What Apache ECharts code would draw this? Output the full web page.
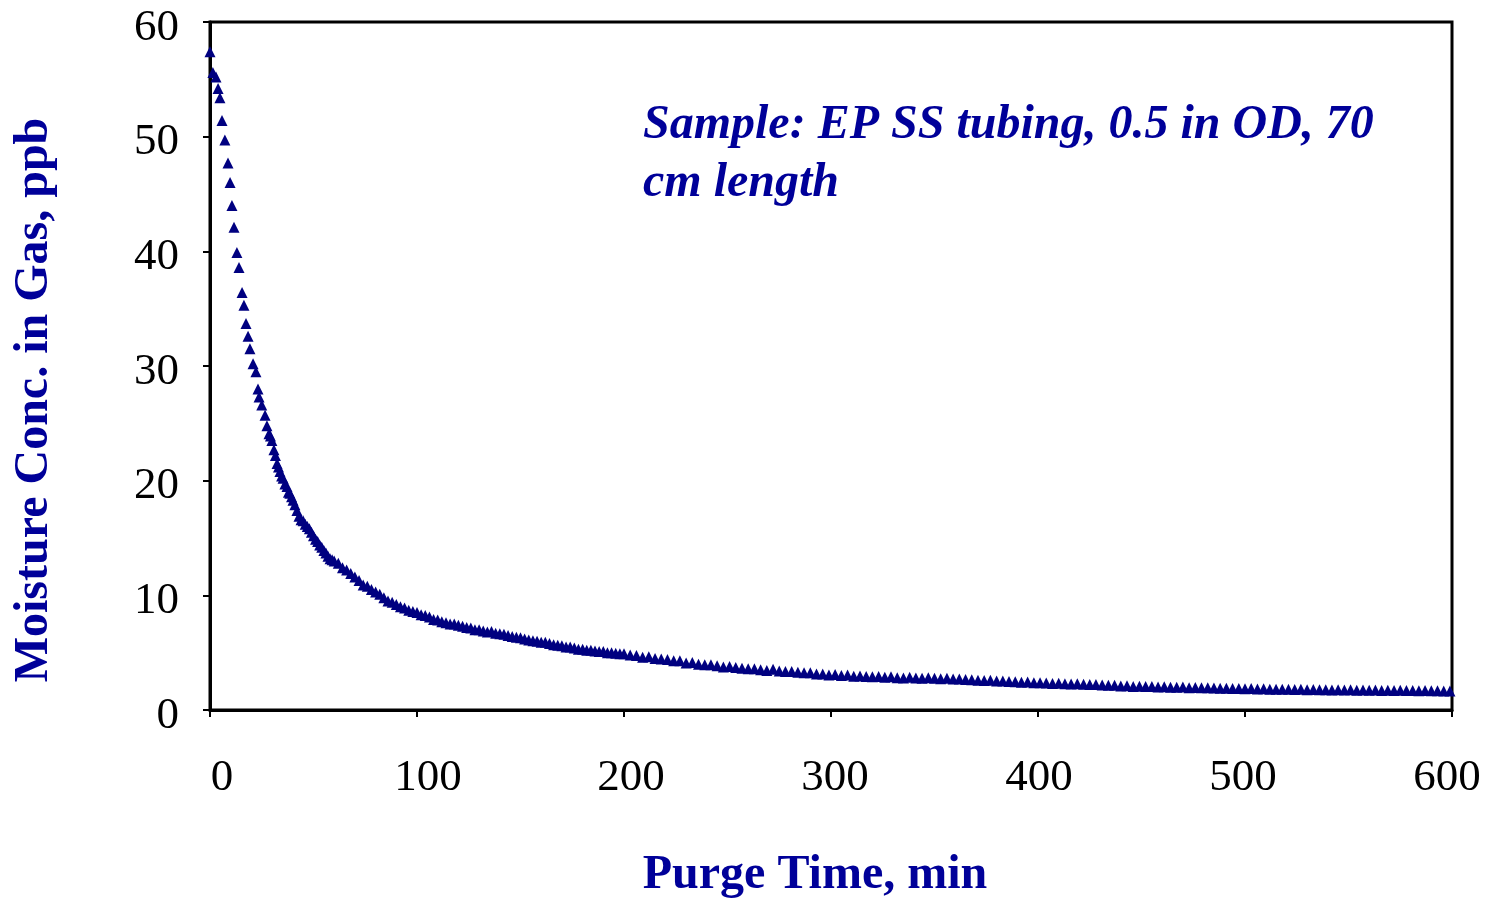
<!DOCTYPE html>
<html>
<head>
<meta charset="utf-8">
<script src="https://cdn.jsdelivr.net/npm/echarts@6/dist/echarts.min.js"></script>
<style>html,body{margin:0;padding:0;background:#fff}#c{width:1487px;height:900px}</style>
</head>
<body>
<div id="c"></div>
<script>
// Purge time (min) and moisture concentration (ppb)
const timeEarly = [0,1.4,2.9,3.9,4.8,5.8,7.2,8.7,9.7,10.6,11.6,13.0,14.0,15.5,16.4,17.4,18.4,19.3,20.8,22.2,23.2,23.7,25.0,26.6,27.5,28.5,29.2,29.9,30.9,31.6,32.4,33.1,33.8,34.6,35.3,36.2,37.2,37.9,38.6,39.4,40.1];
const concEarly = [57.4,55.6,55.2,54.2,53.4,51.4,49.7,47.7,46.0,44.0,42.1,39.9,38.6,36.4,35.3,33.7,32.6,31.5,30.2,29.5,28.0,27.3,26.6,25.7,24.8,24.1,23.9,23.5,22.7,22.2,21.5,21.2,20.8,20.4,20.2,19.7,19.5,19.0,18.9,18.6,18.3];

const timeMid = [41,42,43,44,45,46,47,48,49,50,51,52,53,54,55,56,57,58,59,60,
  62,64,66,68,70,72,74,76,78,80,82,84,86,88,90,92,94,96,98,100,
  102,104,106,108,110,112,114,116,118,120,122,124,126,128,130,132,134,136,138,140,
  142,144,146,148,150,152,154,156,158,160,162,164,166,168,170,172,174,176,178,180,
  182,184,186,188,190,192,194,196,198,200];
const concMid = [17.9,17.4,16.9,16.6,16.5,16.2,16.0,15.8,15.5,15.2,14.9,14.7,14.4,14.2,13.9,13.7,13.4,13.2,13.1,13.0,
  12.8,12.4,12.2,11.9,11.6,11.3,10.9,10.8,10.5,10.3,10.1,9.8,9.5,9.4,9.2,9.0,8.9,8.7,8.6,8.5,
  8.3,8.25,8.1,7.9,7.85,7.7,7.6,7.5,7.5,7.4,7.3,7.2,7.15,7.0,7.0,6.9,6.8,6.85,6.7,6.65,
  6.6,6.5,6.4,6.35,6.3,6.2,6.1,6.05,6.0,5.9,5.9,5.8,5.7,5.65,5.6,5.5,5.5,5.4,5.3,5.3,
  5.2,5.2,5.15,5.1,5.1,5.0,5.0,4.95,4.9,4.9];

const timeLate = [203,206,209,212,215,218,221,224,227,230,233,236,239,242,245,248,251,254,257,260,
  263,266,269,272,275,278,281,284,287,290,293,296,299,302,305,308,311,314,317,320,
  323,326,329,332,335,338,341,344,347,350,353,356,359,362,365,368,371,374,377,380,
  383,386,389,392,395,398,401,404,407,410,413,416,419,422,425,428,431,434,437,440,
  443,446,449,452,455,458,461,464,467,470,473,476,479,482,485,488,491,494,497,500,
  503,506,509,512,515,518,521,524,527,530,533,536,539,542,545,548,551,554,557,560,
  563,566,569,572,575,578,581,584,587,590,593,596,599];
const concLate = [4.8,4.75,4.6,4.65,4.5,4.45,4.4,4.3,4.3,4.1,4.15,4.0,3.95,3.95,3.85,3.75,3.8,3.7,3.65,3.6,
  3.6,3.5,3.45,3.55,3.4,3.35,3.35,3.3,3.25,3.25,3.15,3.15,3.05,3.1,3.0,3.05,2.95,2.97,2.92,2.9,
  2.92,2.85,2.9,2.82,2.8,2.86,2.8,2.76,2.82,2.76,2.72,2.77,2.7,2.7,2.66,2.64,2.6,2.58,2.6,2.52,
  2.52,2.48,2.46,2.42,2.44,2.37,2.38,2.35,2.32,2.33,2.3,2.27,2.28,2.24,2.22,2.22,2.17,2.16,2.15,2.1,
  2.12,2.06,2.08,2.04,2.04,2.0,2.03,1.98,1.98,2.0,1.95,1.97,1.93,1.93,1.92,1.89,1.9,1.88,1.87,1.85,
  1.87,1.83,1.85,1.82,1.82,1.8,1.82,1.78,1.8,1.77,1.79,1.76,1.77,1.75,1.77,1.74,1.76,1.73,1.75,1.72,
  1.74,1.71,1.73,1.7,1.72,1.69,1.71,1.68,1.69,1.67,1.68,1.65,1.66];

const xTicks = [0,100,200,300,400,500,600];
const yTicks = [0,10,20,30,40,50,60];
const xLabelShift = [12,11,7,4,1,-2,-5];

const times = timeEarly.concat(timeMid, timeLate);
const conc = concEarly.concat(concMid, concLate);
const points = times.map((t, i) => [t, conc[i]]);

const rich = {};
xTicks.forEach((v, i) => {
  const s = xLabelShift[i];
  rich['l' + i] = {
    fontFamily: 'Liberation Serif', fontSize: 45, color: '#000',
    padding: s >= 0 ? [0, 0, 0, 2 * s] : [0, -2 * s, 0, 0]
  };
});

const chart = echarts.init(document.getElementById('c'), null, {renderer: 'canvas'});
chart.setOption({
  animation: false,
  backgroundColor: '#fff',
  grid: {left: 210, right: 35, top: 22, bottom: 190, show: true, borderColor: '#000', borderWidth: 3, backgroundColor: 'transparent'},
  xAxis: {
    type: 'value', min: xTicks[0], max: xTicks[xTicks.length - 1], interval: 100,
    axisLine: {show: true, lineStyle: {color: '#000', width: 3}},
    axisTick: {show: true, inside: false, length: 7, lineStyle: {color: '#000', width: 2}},
    splitLine: {show: false},
    axisLabel: {
      margin: 46,
      formatter: (v) => { const i = xTicks.indexOf(v); return '{l' + i + '|' + v + '}'; },
      rich: rich,
      fontFamily: 'Liberation Serif', fontSize: 45, color: '#000'
    }
  },
  yAxis: {
    type: 'value', min: yTicks[0], max: yTicks[yTicks.length - 1], interval: 10,
    axisLine: {show: true, lineStyle: {color: '#000', width: 3}},
    axisTick: {show: true, inside: false, length: 7, lineStyle: {color: '#000', width: 2}},
    splitLine: {show: false},
    axisLabel: {
      margin: 31,
      formatter: (v) => '{y|' + v + '}',
      rich: {y: {fontFamily: 'Liberation Serif', fontSize: 45, color: '#000', padding: [12, 0, 0, 0]}},
      fontFamily: 'Liberation Serif', fontSize: 45, color: '#000'
    }
  },
  graphic: [
    {type: 'text', left: 643, top: 97, style: {
      text: 'Sample: EP SS tubing, 0.5 in OD, 70\ncm length',
      font: 'italic bold 48px "Liberation Serif"', fill: '#000099', lineHeight: 58
    }},
    {type: 'text', x: 815, y: 876, style: {
      text: 'Purge Time, min', font: 'bold 48px "Liberation Serif"', fill: '#000099',
      align: 'center', verticalAlign: 'middle'
    }},
    {type: 'text', x: 35, y: 400, rotation: Math.PI / 2, style: {
      text: 'Moisture Conc. in Gas, ppb', font: 'bold 48px "Liberation Serif"', fill: '#000099',
      align: 'center', verticalAlign: 'middle'
    }}
  ],
  series: [{
    type: 'scatter',
    data: points,
    symbol: 'triangle',
    symbolSize: 11,
    itemStyle: {color: '#000080', opacity: 1},
    clip: false
  }]
});
</script>
</body>
</html>
